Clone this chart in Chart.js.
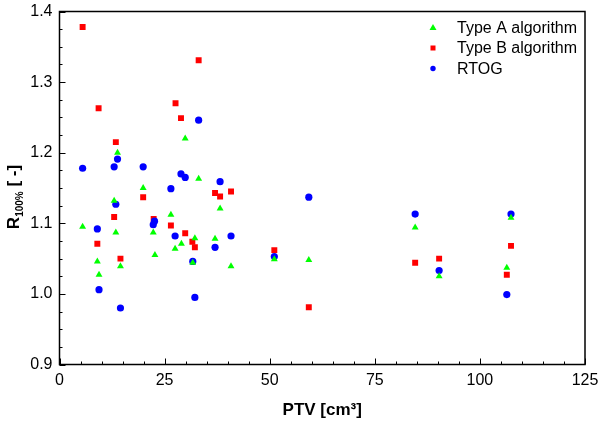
<!DOCTYPE html>
<html>
<head>
<meta charset="utf-8">
<script src="https://cdn.jsdelivr.net/npm/chart.js@4.4.0/dist/chart.umd.min.js"></script>
<style>
  html, body { margin: 0; padding: 0; background: #fff; }
</style>
</head>
<body>
<canvas id="chart" width="600" height="422"></canvas>
<script>
// PTV [cm3] and R100% values, one pair of arrays per series
const ptvA  = [5.5, 9.0, 9.4, 13.0, 13.4, 13.8, 14.5, 19.9, 22.3, 22.7, 26.5, 27.5, 29.0, 29.9, 31.7, 32.2, 33.1, 37.0, 38.2, 40.8, 51.1, 59.3, 84.6, 90.3, 106.4, 107.4];
const typeA = [1.095, 1.046, 1.027, 1.132, 1.087, 1.200, 1.039, 1.150, 1.087, 1.055, 1.112, 1.064, 1.071, 1.220, 1.044, 1.079, 1.163, 1.078, 1.121, 1.039, 1.049, 1.048, 1.094, 1.025, 1.037, 1.108];

const ptvB  = [5.5, 9.0, 9.3, 13.0, 13.4, 14.5, 19.9, 22.4, 26.5, 27.6, 28.9, 29.9, 31.6, 32.2, 33.1, 37.0, 38.2, 40.8, 51.1, 59.3, 84.6, 90.3, 106.4, 107.4];
const typeB = [1.378, 1.071, 1.263, 1.109, 1.215, 1.050, 1.137, 1.106, 1.097, 1.270, 1.249, 1.086, 1.074, 1.066, 1.331, 1.143, 1.138, 1.145, 1.062, 0.981, 1.044, 1.050, 1.027, 1.068];

const ptvR  = [5.5, 9.0, 9.4, 13.0, 13.4, 13.8, 14.5, 19.9, 22.6, 22.3, 26.5, 27.5, 28.9, 29.9, 31.7, 32.2, 33.1, 37.0, 38.2, 40.8, 51.1, 59.3, 84.6, 90.3, 106.4, 107.4];
const rtog  = [1.178, 1.092, 1.006, 1.180, 1.127, 1.191, 0.980, 1.180, 1.103, 1.098, 1.149, 1.082, 1.170, 1.165, 1.046, 0.995, 1.246, 1.066, 1.159, 1.082, 1.053, 1.137, 1.113, 1.033, 0.999, 1.113];

const seriesLabels = ['Type A algorithm', 'Type B algorithm', 'RTOG'];
const seriesColors = ['#00ff00', '#ff0000', '#0000ff'];
const seriesStyles = ['triangle', 'rect', 'circle'];

const X_MIN = 0, X_MAX = 125, X_STEP = 25, X_MINOR = 5;
const Y_MIN = 0.9, Y_MAX = 1.4, Y_STEP = 0.1, Y_MINOR = 0.025;

const FONT = '"Liberation Sans", Arial, sans-serif';
Chart.defaults.font.family = FONT;
Chart.defaults.color = '#000';

const toPoints = (xs, ys) => xs.map((x, i) => ({ x: x, y: ys[i] }));

// box around the plot + inward ticks (major and minor), like the original
const frameTicks = {
  id: 'frameTicks',
  afterDraw(chart) {
    const { ctx, chartArea: a, scales: { x, y } } = chart;
    ctx.save();
    ctx.strokeStyle = '#000';
    ctx.lineWidth = 1;
    ctx.beginPath();
    const nx = Math.round((X_MAX - X_MIN) / X_MINOR);
    for (let i = 0; i <= nx; i++) {
      const v = X_MIN + i * X_MINOR;
      const px = Math.round(x.getPixelForValue(v)) + 0.5;
      const len = i % (X_STEP / X_MINOR) === 0 ? 6 : 3;
      ctx.moveTo(px, a.bottom);
      ctx.lineTo(px, a.bottom - len);
    }
    const ny = Math.round((Y_MAX - Y_MIN) / Y_MINOR);
    for (let i = 0; i <= ny; i++) {
      const v = Y_MIN + i * Y_MINOR;
      const py = Math.round(y.getPixelForValue(v)) + 0.5;
      const len = i % 4 === 0 ? 6 : 3;
      ctx.moveTo(a.left, py);
      ctx.lineTo(a.left + len, py);
    }
    ctx.stroke();
    ctx.lineWidth = 1.5;
    ctx.strokeRect(a.left, a.top, a.right - a.left, a.bottom - a.top);
    ctx.restore();
  }
};

// y title with subscript, Chart.js titles can't do that
const yTitle = {
  id: 'yTitle',
  afterDraw(chart) {
    const { ctx, chartArea: a } = chart;
    const parts = [
      { t: 'R', f: 'bold 17px ' + FONT, dy: 0 },
      { t: '100%', f: 'bold 10px ' + FONT, dy: 4 },
      { t: ' [ -]', f: 'bold 17px ' + FONT, dy: 0 }
    ];
    ctx.save();
    let w = 0;
    parts.forEach(p => { ctx.font = p.f; p.w = ctx.measureText(p.t).width; w += p.w; });
    ctx.translate(13, (a.top + a.bottom) / 2 + 9);
    ctx.rotate(-Math.PI / 2);
    ctx.fillStyle = '#000';
    ctx.textBaseline = 'alphabetic';
    let cx = -w / 2;
    parts.forEach(p => { ctx.font = p.f; ctx.fillText(p.t, cx, 6 + p.dy); cx += p.w; });
    ctx.restore();
  }
};

// legend in the top right corner inside the plot, no frame
const cornerLegend = {
  id: 'cornerLegend',
  afterDraw(chart) {
    const { ctx, chartArea: a } = chart;
    const mx = a.right - 152, tx = a.right - 128;
    ctx.save();
    ctx.font = '16px ' + FONT;
    ctx.textBaseline = 'middle';
    chart.data.datasets.forEach((ds, i) => {
      const yy = a.top + 16 + i * 20.5;
      ctx.fillStyle = ds.backgroundColor;
      ctx.beginPath();
      if (ds.pointStyle === 'triangle') {
        ctx.moveTo(mx, yy - 3.5); ctx.lineTo(mx + 3.5, yy + 2.5); ctx.lineTo(mx - 3.5, yy + 2.5); ctx.closePath(); ctx.fill();
      } else if (ds.pointStyle === 'rect') {
        ctx.fillRect(mx - 2.5, yy - 2.5, 5, 5);
      } else {
        ctx.arc(mx, yy, 2.7, 0, Math.PI * 2); ctx.fill();
      }
      ctx.fillStyle = '#000';
      ctx.fillText(ds.label, tx, yy + 1);
    });
    ctx.restore();
  }
};

// keep the plot box where the original has it, labels may hang over
const noLabelPadding = scale => {
  scale.paddingTop = 0; scale.paddingBottom = 0;
  scale.paddingLeft = 0; scale.paddingRight = 0;
};

const radii = [4, 4.2, 3.6];
const drawOrder = [0, 2, 1]; // green on top, then blue, red at the bottom
const allX = [ptvA, ptvB, ptvR];
const allY = [typeA, typeB, rtog];

new Chart(document.getElementById('chart'), {
  type: 'scatter',
  data: {
    datasets: seriesLabels.map((label, i) => ({
      label: label,
      data: toPoints(allX[i], allY[i]),
      pointStyle: seriesStyles[i],
      pointRadius: radii[i],
      pointHoverRadius: radii[i],
      backgroundColor: seriesColors[i],
      borderColor: seriesColors[i],
      borderWidth: 0,
      order: drawOrder[i]
    }))
  },
  options: {
    responsive: false,
    animation: false,
    devicePixelRatio: 1,
    layout: { padding: { top: 11.5, right: 15, left: 0, bottom: 0 } },
    plugins: { legend: { display: false }, tooltip: { enabled: false } },
    scales: {
      x: {
        type: 'linear', min: X_MIN, max: X_MAX,
        grid: { display: false, drawTicks: false },
        border: { display: false },
        ticks: { stepSize: X_STEP, padding: 6, font: { size: 16 }, color: '#000', maxRotation: 0 },
        title: { display: true, text: 'PTV [cm³]', font: { size: 17, weight: 'bold' }, color: '#000', padding: { top: 0, bottom: 1 } },
        afterFit(scale) { scale.height = 57.5; noLabelPadding(scale); }
      },
      y: {
        type: 'linear', min: Y_MIN, max: Y_MAX,
        grid: { display: false, drawTicks: false },
        border: { display: false },
        ticks: { stepSize: Y_STEP, padding: 7, font: { size: 16 }, color: '#000', callback: v => Number(v).toFixed(1) },
        afterFit(scale) { scale.width = 59.5; noLabelPadding(scale); }
      }
    }
  },
  plugins: [frameTicks, yTitle, cornerLegend]
});
</script>
</body>
</html>
